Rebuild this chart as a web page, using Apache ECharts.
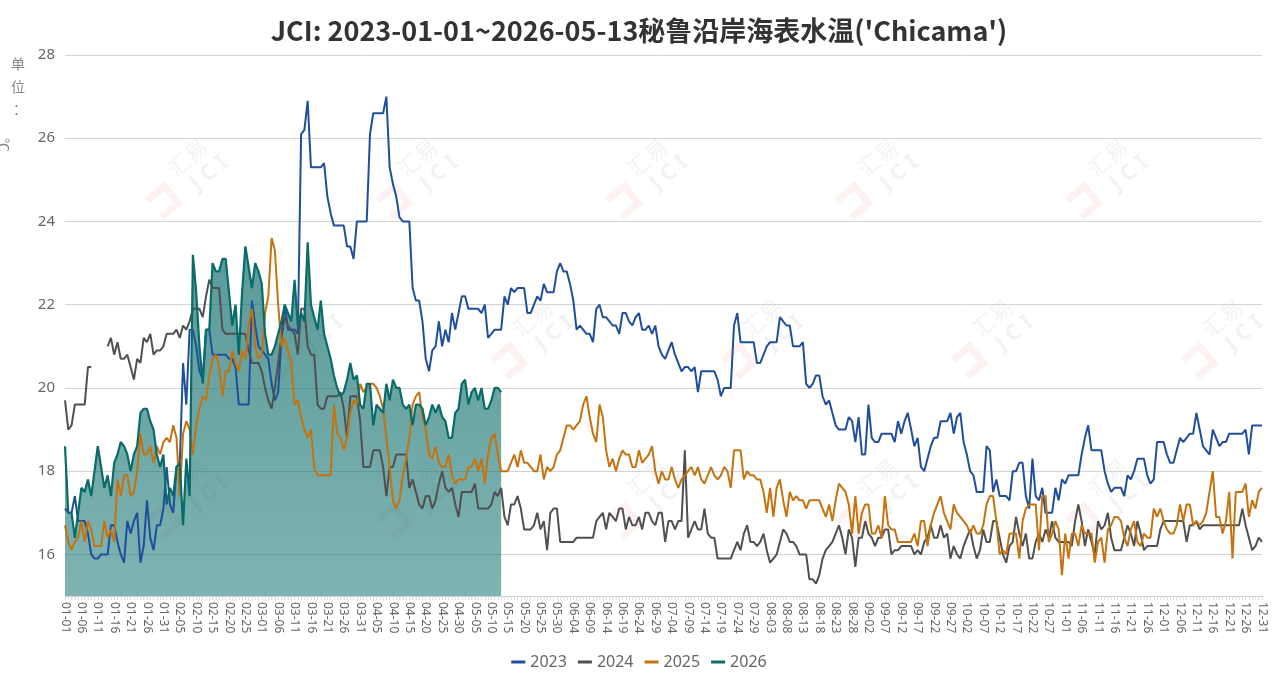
<!DOCTYPE html>
<html>
<head>
<meta charset="utf-8">
<title>秘鲁沿岸海表水温</title>
<script src="https://cdn.jsdelivr.net/npm/echarts@6/dist/echarts.min.js"></script>
<style>
  html, body { margin: 0; padding: 0; background: #fff; }
  #main { width: 1278px; height: 689px; }
</style>
</head>
<body>
<div id="main"></div>
<script>
// 日期轴：按闰年排 366 天，标签每 5 天一个
var days = [];
(function () {
    var d = new Date(2024, 0, 1);
    while (d.getFullYear() === 2024) {
        var m = ('0' + (d.getMonth() + 1)).slice(-2);
        var dd = ('0' + d.getDate()).slice(-2);
        days.push(m + '-' + dd);
        d.setDate(d.getDate() + 1);
    }
})();

var yTicks = [16, 18, 20, 22, 24, 26, 28];

// 各年数据（单位：℃），下标对应 days
var y2023 = [
    17.1,17.0,17.0,17.4,16.8,16.8,16.8,16.5,16.0,15.9, 15.9,16.0,16.0,16.0,16.7,16.7,16.3,16.0,15.8,16.8,
    16.5,16.8,17.0,15.8,16.2,17.3,16.4,16.1,16.7,16.7, 17.1,18.1,17.2,17.0,18.1,18.2,20.6,19.6,21.4,21.4,
    21.0,20.4,20.2,21.4,21.4,20.8,20.8,20.8,20.8,20.8, 20.7,20.7,20.5,19.6,19.6,19.6,19.6,22.1,21.5,21.0,
    20.9,20.8,20.7,20.1,19.7,19.9,21.2,22.0,21.4,21.4, 21.4,21.3,26.1,26.2,26.9,25.3,25.3,25.3,25.3,25.4,
    24.6,24.2,23.9,23.9,23.9,23.9,23.4,23.4,23.1,24.0, 24.0,24.0,24.0,26.1,26.6,26.6,26.6,26.6,27.0,25.3,
    24.9,24.6,24.1,24.0,24.0,24.0,22.4,22.1,22.1,21.6, 20.7,20.4,20.9,21.0,21.6,21.0,21.4,21.1,21.8,21.4,
    21.8,22.2,22.2,21.9,21.9,21.9,21.9,21.8,22.0,21.2, 21.3,21.4,21.4,21.4,22.2,22.0,22.4,22.3,22.4,22.4,
    22.4,21.8,21.8,22.0,22.2,22.1,22.5,22.3,22.3,22.3, 22.8,23.0,22.8,22.8,22.5,22.1,21.4,21.5,21.4,21.3,
    21.3,21.1,21.9,22.0,21.7,21.7,21.6,21.5,21.5,21.3, 21.8,21.8,21.6,21.5,21.7,21.8,21.4,21.4,21.5,21.3,
    21.5,21.0,20.8,20.7,20.9,21.1,20.8,20.6,20.4,20.5, 20.5,20.4,20.5,19.9,20.4,20.4,20.4,20.4,20.4,20.2,
    19.8,20.0,20.0,20.0,21.5,21.8,21.1,21.1,21.1,21.1, 21.1,20.6,20.6,20.8,21.0,21.1,21.1,21.1,21.7,21.6,
    21.5,21.5,21.0,21.0,21.0,21.1,20.1,20.0,20.1,20.3, 20.3,19.8,19.6,19.7,19.4,19.1,19.0,19.0,19.0,19.3,
    19.2,18.7,19.3,18.4,18.4,19.6,18.8,18.7,18.7,18.9, 18.9,18.9,18.9,18.7,19.2,18.9,19.2,19.4,19.0,18.6,
    18.8,18.1,18.0,18.3,18.6,18.8,18.8,19.2,19.2,19.2, 19.4,18.9,19.3,19.4,18.7,18.4,18.0,17.9,17.5,17.5,
    17.5,18.6,18.5,17.5,17.8,17.4,17.4,17.4,17.3,18.0, 18.0,18.2,18.2,17.4,17.1,18.3,17.4,17.3,17.6,17.0,
    17.0,17.0,17.6,17.3,17.8,17.7,17.9,17.9,17.9,17.9, 18.4,18.8,19.1,18.5,18.5,18.5,18.5,18.0,17.7,17.5,
    17.6,17.6,17.6,17.4,17.9,17.8,18.0,18.3,18.3,18.3, 17.9,17.7,17.8,18.7,18.7,18.7,18.4,18.2,18.2,18.5,
    18.8,18.7,18.8,18.9,18.9,19.4,19.0,18.6,18.5,18.4, 19.0,18.8,18.6,18.7,18.7,18.9,18.9,18.9,18.9,18.9,
    19.0,18.4,19.1,19.1,19.1,19.1
];

var y2024 = [
    19.7,19.0,19.1,19.6,19.6,19.6,19.6,20.5,20.5,null, null,null,null,21.0,21.2,20.8,21.1,20.7,20.7,20.8,
    20.5,20.2,20.7,20.6,21.2,21.1,21.3,20.8,20.9,20.9, 21.0,21.3,21.3,21.3,21.4,21.2,21.5,21.4,21.6,21.9,
    21.9,21.9,21.7,22.2,22.6,22.4,22.4,22.4,21.4,21.3, 21.3,21.3,21.3,21.3,21.3,21.3,20.9,20.6,20.6,20.6,
    20.4,20.0,19.7,19.5,20.0,20.6,21.2,21.7,21.5,21.4, 21.3,20.8,21.9,21.9,21.0,20.8,20.8,19.6,19.5,19.5,
    19.8,19.8,19.8,19.8,19.9,19.5,18.8,19.8,19.8,19.8, 19.2,18.1,18.1,18.1,18.5,18.5,18.5,18.1,17.4,18.1,
    18.1,18.4,18.4,18.4,18.4,17.6,17.8,17.5,17.2,17.1, 17.4,17.4,17.1,17.3,17.7,18.0,17.6,17.5,17.6,17.2,
    16.9,17.5,17.5,17.5,17.5,17.7,17.1,17.1,17.1,17.1, 17.2,17.5,17.4,17.6,16.9,16.7,17.2,17.2,17.4,17.1,
    16.6,16.6,16.6,16.7,17.0,16.6,16.8,16.1,17.0,17.1, 17.1,16.3,16.3,16.3,16.3,16.3,16.4,16.4,16.4,16.4,
    16.4,16.4,16.8,16.9,17.0,16.6,17.0,16.9,16.8,17.1, 17.1,16.6,16.9,16.7,16.7,16.9,16.6,17.0,17.0,16.8,
    16.7,17.0,17.0,16.3,16.8,16.8,16.6,16.8,16.8,18.5, 16.4,16.6,16.8,16.6,16.6,17.1,16.5,16.4,16.4,15.9,
    15.9,15.9,15.9,15.9,16.1,16.3,16.1,16.5,16.7,16.3, 16.3,16.2,16.3,16.5,16.1,15.8,15.9,16.0,16.3,16.6,
    16.5,16.3,16.3,16.2,16.0,16.0,16.0,15.4,15.4,15.3, 15.5,15.9,16.1,16.2,16.3,16.5,16.7,16.4,16.0,16.6,
    16.4,15.7,16.4,16.4,16.8,16.5,16.4,16.2,16.4,16.4, 16.6,16.6,16.0,16.1,16.1,16.2,16.2,16.2,16.2,16.0,
    16.1,16.0,16.3,16.4,16.7,16.4,16.4,16.7,16.4,16.5, 15.9,16.2,16.0,15.9,16.2,16.4,16.6,16.2,15.9,16.1,
    16.6,16.3,16.3,16.8,16.8,16.4,16.0,15.8,16.2,16.3, 16.9,16.5,16.2,16.5,15.9,15.9,16.3,16.5,16.3,16.6,
    16.4,16.8,16.4,16.3,16.3,16.3,16.3,16.2,16.8,17.2, 16.8,16.2,16.6,16.3,16.0,16.8,16.6,16.7,17.0,16.4,
    16.1,16.1,16.1,16.4,16.7,16.5,16.2,16.8,16.5,16.1, 16.2,16.2,16.2,16.2,16.6,16.8,16.8,16.8,16.8,16.8,
    16.8,16.8,16.3,16.7,16.7,16.8,16.6,16.7,16.7,16.7, 16.7,16.7,16.7,16.7,16.7,16.7,16.7,16.7,16.7,17.1,
    16.7,16.4,16.1,16.2,16.4,16.3
];

var y2025 = [
    16.7,16.3,16.1,16.3,16.4,16.8,16.3,16.8,16.6,16.2, 16.2,16.2,16.8,16.4,16.6,16.3,17.8,17.4,17.9,17.9,
    17.4,17.5,18.0,18.9,18.4,18.4,18.6,18.2,18.6,18.4, 18.7,18.8,18.7,19.1,18.8,17.4,18.9,19.2,19.0,18.4,
    19.1,19.5,19.8,19.7,20.3,20.7,20.8,20.5,19.8,20.4, 20.4,20.9,20.6,20.4,20.9,20.7,21.5,21.9,21.0,20.7,
    20.8,21.8,22.2,23.6,23.3,22.0,21.0,21.2,20.9,20.6, 19.6,19.7,19.3,19.0,18.8,19.0,18.1,17.9,17.9,17.9,
    17.9,17.9,19.6,18.9,18.8,18.5,18.8,19.4,19.7,19.6, 20.1,19.9,20.0,20.1,20.1,20.0,19.8,19.5,18.8,18.1,
    17.3,17.1,17.3,17.9,18.3,18.8,19.6,19.8,19.9,19.3, 19.0,18.4,18.3,18.6,18.2,18.1,18.1,18.4,17.9,17.7,
    17.8,17.8,17.8,18.1,18.1,18.3,18.0,18.3,17.7,18.4, 18.8,18.9,18.4,18.0,18.0,18.0,18.2,18.4,18.1,18.5,
    18.2,18.2,18.1,18.0,18.0,18.4,17.8,18.1,18.0,18.1, 18.4,18.5,18.8,19.1,19.1,19.0,19.1,19.2,19.6,19.8,
    19.3,18.9,18.7,19.6,19.3,18.5,18.1,18.3,18.0,18.3, 18.5,18.4,18.4,18.1,18.1,18.5,18.2,18.3,18.4,18.6,
    18.0,17.7,18.0,17.8,17.8,18.1,17.8,17.6,17.8,17.9, 18.0,18.1,17.9,18.1,17.8,17.7,17.9,18.1,17.9,17.8,
    17.9,18.1,18.0,17.6,18.5,18.5,18.5,17.8,18.0,17.9, 17.9,17.8,17.8,17.5,17.0,17.6,16.9,17.6,17.8,17.3,
    16.9,17.5,17.3,17.4,17.3,17.3,17.1,17.3,17.3,17.3, 17.3,17.1,16.9,17.2,16.8,17.3,17.7,17.6,17.5,17.2,
    16.5,17.4,16.5,17.0,17.2,17.2,16.5,16.5,16.7,16.4, 17.4,16.7,16.6,16.6,16.3,16.3,16.3,16.3,16.3,16.5,
    16.2,16.8,16.8,16.2,16.7,17.0,17.2,17.4,17.0,16.8, 16.6,17.2,17.0,16.9,16.8,16.7,16.5,16.7,16.5,16.5,
    16.7,17.2,17.4,17.4,16.8,16.0,16.1,16.0,16.5,16.5, 16.5,15.9,16.8,17.1,17.2,17.2,17.2,16.1,17.4,17.4,
    16.3,16.5,16.8,16.6,15.5,16.5,15.9,16.5,16.5,16.2, 16.7,16.5,16.5,16.5,15.8,16.3,16.4,15.8,16.6,16.7,
    16.9,16.9,16.8,16.4,16.2,16.6,16.8,16.3,16.2,16.5, 16.4,16.4,17.1,16.9,17.1,16.8,16.6,16.5,16.5,16.7,
    17.2,16.8,17.2,17.2,16.7,16.8,16.7,16.8,17.0,17.5, 18.0,16.9,16.9,16.5,16.8,17.5,15.9,17.5,17.5,17.5,
    17.7,16.9,17.3,17.1,17.5,17.6
];

var y2026 = [
    18.6,17.0,17.0,16.4,17.0,17.6,17.5,17.8,17.4,18.0, 18.6,18.1,17.6,17.9,17.4,18.2,18.4,18.7,18.6,18.4,
    18.0,18.4,18.6,19.4,19.5,19.5,19.2,19.0,18.4,18.1, 18.4,17.2,17.6,17.4,18.1,18.2,16.7,18.3,17.4,23.2,
    22.3,21.0,20.1,21.4,21.4,23.0,22.8,22.8,23.1,23.1, 22.3,21.5,22.0,20.8,22.3,23.4,22.9,22.4,23.0,22.8,
    22.5,21.3,20.8,20.8,21.0,21.3,21.6,22.0,21.8,21.6, 22.6,21.5,21.8,21.6,23.5,22.0,21.7,21.4,22.1,21.3,
    21.0,20.7,20.3,20.0,19.8,19.9,20.2,20.6,20.2,20.3, 19.6,19.5,20.1,20.1,19.1,19.6,19.5,19.4,20.1,19.7,
    20.2,20.0,20.0,19.6,19.5,19.6,19.1,19.6,19.6,19.5, 19.1,19.3,19.6,19.4,19.6,19.3,19.2,18.8,18.8,19.4,
    19.5,20.1,20.2,19.6,19.9,20.0,19.7,20.0,19.5,19.5, 19.7,20.0,20.0,19.9
];

var myChart = echarts.init(document.getElementById('main'));

// 水印 “汇易 JCI”
var marks = [];
var markPos = [
    [190, 170], [420, 170], [650, 170], [880, 170], [1110, 170],
    [305, 330], [535, 330], [765, 330], [995, 330], [1225, 330],
    [190, 490], [420, 490], [650, 490], [880, 490], [1110, 490]
];
markPos.forEach(function (p) {
    marks.push({
        type: 'group',
        x: p[0], y: p[1],
        rotation: Math.PI / 180 * 40,
        silent: true,
        z: 0,
        children: [
            { type: 'polyline', shape: { points: [[-52, -4], [-30, -4], [-30, 18], [-52, 18]] },
              style: { stroke: 'rgba(240,60,60,0.07)', lineWidth: 7, fill: null } },
            { type: 'text', x: -16, y: -22, style: { text: '汇易', font: '22px "Noto Sans CJK SC"', fill: 'rgba(0,0,0,0.05)' } },
            { type: 'text', x: -8, y: 4, style: { text: 'J C I', font: 'bold 22px "Noto Sans"', fill: 'rgba(0,0,0,0.05)' } }
        ]
    });
});

// 单位
marks.push(
    { type: 'text', left: 11, top: 57, style: { text: '单', font: '14px "Noto Sans CJK SC"', fill: '#888' } },
    { type: 'text', left: 11, top: 80, style: { text: '位', font: '14px "Noto Sans CJK SC"', fill: '#888' } },
    { type: 'text', left: 13, top: 102, style: { text: '：', font: '14px "Noto Sans CJK SC"', fill: '#888' } },
    { type: 'text', x: 11, y: 138, rotation: -Math.PI / 2, style: { text: '℃', font: '14px "Noto Sans CJK SC"', fill: '#888' } }
);

var option = {
    backgroundColor: '#fff',
    title: {
        text: "JCI: 2023-01-01~2026-05-13秘鲁沿岸海表水温('Chicama')",
        left: 'center',
        top: 12,
        textStyle: {
            fontFamily: 'Noto Sans CJK SC',
            fontSize: 27,
            fontWeight: 'bold',
            color: '#333'
        }
    },
    graphic: marks,
    legend: {
        bottom: 14,
        left: 'center',
        icon: 'rect',
        itemWidth: 14,
        itemHeight: 3,
        itemGap: 11,
        textStyle: { color: '#666', fontSize: 16, fontFamily: 'Noto Sans' },
        data: ['2023', '2024', '2025', '2026']
    },
    grid: {
        left: 65,
        right: 16,
        top: 55,
        bottom: 93
    },
    xAxis: {
        type: 'category',
        data: days,
        boundaryGap: false,
        axisLine: { lineStyle: { color: '#ccc' } },
        axisTick: { show: true, interval: 0, length: 4, lineStyle: { color: '#ddd' } },
        axisLabel: {
            interval: 4,
            rotate: -90,
            color: '#666',
            fontSize: 12,
            fontFamily: 'Noto Sans',
            margin: 6
        }
    },
    yAxis: {
        type: 'value',
        min: 15,
        max: 28,
        interval: 1,
        axisLine: { show: false },
        axisTick: { show: false },
        axisLabel: {
            color: '#666',
            fontSize: 15,
            fontFamily: 'Noto Sans',
            margin: 10,
            formatter: function (v) { return yTicks.indexOf(v) >= 0 ? v : ''; }
        },
        splitLine: {
            show: true,
            lineStyle: { color: ['rgba(0,0,0,0)', '#d4d4d4'], width: 1 }
        }
    },
    series: [
        {
            name: '2023', type: 'line', data: y2023,
            showSymbol: false, symbol: 'none',
            itemStyle: { color: '#1f4f9c' },
            lineStyle: { width: 2, color: '#1f4f9c' }
        },
        {
            name: '2024', type: 'line', data: y2024,
            showSymbol: false, symbol: 'none',
            itemStyle: { color: '#505050' },
            lineStyle: { width: 2, color: '#505050' }
        },
        {
            name: '2025', type: 'line', data: y2025,
            showSymbol: false, symbol: 'none',
            itemStyle: { color: '#c4730f' },
            lineStyle: { width: 2, color: '#c4730f' }
        },
        {
            name: '2026', type: 'line', data: y2026,
            showSymbol: false, symbol: 'none',
            itemStyle: { color: '#0a6b68' },
            lineStyle: { width: 2.2, color: '#0a6b68' },
            areaStyle: {
                origin: 'start',
                opacity: 1,
                color: new echarts.graphic.LinearGradient(0, 0, 0, 1, [
                    { offset: 0, color: 'rgba(10,107,104,0.68)' },
                    { offset: 1, color: 'rgba(10,110,108,0.52)' }
                ])
            }
        }
    ]
};

myChart.setOption(option);
</script>
</body>
</html>
